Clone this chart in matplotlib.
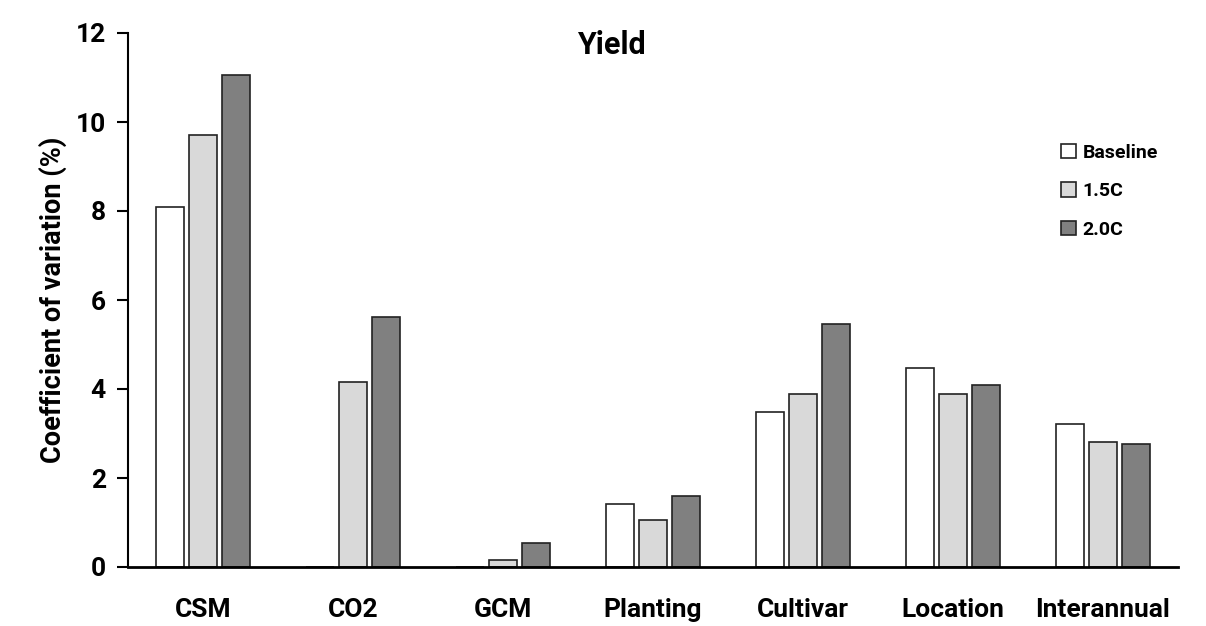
import numpy as np
import matplotlib

matplotlib.use("Agg")
import matplotlib.pyplot as plt

plt.rcParams["font.family"] = ["Roboto", "DejaVu Sans"]

categories = ["CSM", "CO2", "GCM", "Planting", "Cultivar", "Location", "Interannual"]
series_names = ["Baseline", "1.5C", "2.0C"]
baseline = [8.10, 0.0, 0.0, 1.42, 3.49, 4.47, 3.21]
warm_15 = [9.71, 4.16, 0.16, 1.06, 3.88, 3.89, 2.81]
warm_20 = [11.06, 5.61, 0.55, 1.60, 5.46, 4.10, 2.76]
colors = ["#ffffff", "#d9d9d9", "#808080"]

fig = plt.figure(figsize=(12.06, 6.26), dpi=100)
ax = fig.add_axes([128 / 1206, 59 / 626, 1050 / 1206, 534 / 626])

x = np.arange(len(categories))
pitch = 0.22
width = 0.187
for i, (vals, name, col) in enumerate(zip([baseline, warm_15, warm_20], series_names, colors)):
    ax.bar(x + (i - 1) * pitch, vals, width, color=col, edgecolor="#222222",
           linewidth=1.2, label=name)

ax.set_xlim(-0.5, 6.5)
ax.set_ylim(0, 12)
ax.set_yticks(range(0, 13, 2))
ax.set_xticks(x)
ax.set_xticklabels(categories, fontsize=19, fontweight="bold")
ax.tick_params(axis="x", length=0, pad=22)
ax.tick_params(axis="y", direction="out", length=8, width=1.5, labelsize=19, pad=8)
for lbl in ax.get_yticklabels():
    lbl.set_fontweight("bold")

for side in ["top", "right"]:
    ax.spines[side].set_visible(False)
ax.spines["left"].set_linewidth(1.5)
ax.spines["bottom"].set_linewidth(2)

ax.set_ylabel("Coefficient of variation (%)", fontsize=19.5, fontweight="bold", labelpad=6)
ax.text(0.46, 1.005, "Yield", transform=ax.transAxes, ha="center", va="top",
        fontsize=22, fontweight="bold")

leg = ax.legend(loc="upper left", bbox_to_anchor=(0.872, 0.825), frameon=False,
                prop={"size": 14, "weight": "bold"}, handlelength=0.75,
                handleheight=0.75, handletextpad=0.35, labelspacing=1.05)

fig.savefig("out.png", dpi=100)
